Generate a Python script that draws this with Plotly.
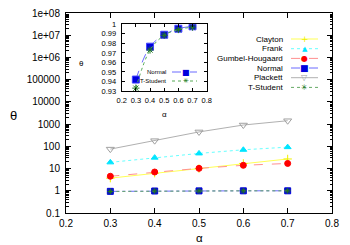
import plotly.graph_objects as go

# ---------------- data ----------------
alpha = [0.3, 0.4, 0.5, 0.6, 0.7]
clayton = [3.7, 6.2, 10.0, 17.0, 27.0]
frank = [19, 31, 48, 70, 92]
gumbel = [4.5, 7.0, 10.2, 14.0, 17.0]
normal = [0.942, 0.9765, 0.989, 0.9954, 0.9979]
plackett = [75, 180, 445, 910, 1420]
tstudent = [0.933, 0.973, 0.9885, 0.9945, 0.997]

x_ticks = [0.2, 0.3, 0.4, 0.5, 0.6, 0.7, 0.8]
x_ticktext = ["0.2", "0.3", "0.4", "0.5", "0.6", "0.7", "0.8"]
y_ticks = [0.1, 1, 10, 100, 1000, 1e4, 1e5, 1e6, 1e7, 1e8]
y_ticktext = ["0.1", "1", "10", "100", "1000", "10000", "100000", "1e+06", "1e+07", "1e+08"]
inset_y_ticks = [0.93, 0.94, 0.95, 0.96, 0.97, 0.98, 0.99, 1.0]
inset_y_ticktext = ["0.93", "0.94", "0.95", "0.96", "0.97", "0.98", "0.99", "1"]

FONT = "Liberation Sans, Arial, sans-serif"
W, H = 350, 245
PL, PR, PT, PB = 66, 332, 13, 213  # plot area in pixels
L, T, R, B = PL, PT, W - PR, H - PB
PW, PH = PR - PL, PB - PT


def px(x):
    return (x - PL) / PW


def py(y):
    return (PB - y) / PH


series = [
    dict(name="Clayton", y=clayton, lc="#ffff55", mc="#f0f000", dash="solid",
         sym="cross-thin-open", size=6, glyph="+", gsize=9),
    dict(name="Frank", y=frank, lc="#66ffff", mc="#00e5ff", dash="dot",
         sym="triangle-up", size=6, glyph="▲", gsize=7),
    dict(name="Gumbel-Hougaard", y=gumbel, lc="#ff9090", mc="#ff0000", dash="dash",
         sym="circle", size=6, glyph="●", gsize=8),
    dict(name="Normal", y=normal, lc="#6a6aff", mc="#0000dd", dash="dashdot",
         sym="square", size=6, glyph="■", gsize=9),
    dict(name="Plackett", y=plackett, lc="#b0b0b0", mc="#a0a0a0", dash="solid",
         sym="triangle-down-open", size=7, glyph="▽", gsize=8),
    dict(name="T-Student", y=tstudent, lc="#66aa66", mc="#227722", dash="dot",
         sym="asterisk-open", size=5, glyph="✳", gsize=8),
]

fig = go.Figure()
for s in series:
    fig.add_trace(go.Scatter(
        x=alpha, y=s["y"], mode="lines+markers", name=s["name"],
        line=dict(color=s["lc"], width=1, dash=s["dash"]),
        marker=dict(symbol=s["sym"], size=s["size"], color=s["mc"],
                    line=dict(color=s["mc"], width=1)),
        showlegend=False, xaxis="x", yaxis="y"))

# inset
fig.add_trace(go.Scatter(
    x=alpha, y=normal, mode="lines+markers", name="Normal",
    line=dict(color="#6a6aff", width=1, dash="dash", shape="spline"),
    marker=dict(symbol="square", size=7, color="#0000dd", line=dict(color="#4444ff", width=1)),
    showlegend=False, xaxis="x2", yaxis="y2"))
fig.add_trace(go.Scatter(
    x=alpha, y=tstudent, mode="lines+markers", name="T-Student",
    line=dict(color="#55aa55", width=1, dash="dot", shape="spline"),
    marker=dict(symbol="asterisk-open", size=6, color="#227722", line=dict(color="#227722", width=1)),
    showlegend=False, xaxis="x2", yaxis="y2"))

annotations = []
shapes = []

# main legend (gnuplot style: right-aligned text, sample on right)
rows = [39, 48.7, 58.4, 68, 77.7, 87.4]
for s, ry in zip(series, rows):
    annotations.append(dict(x=px(285), y=py(ry), xref="paper", yref="paper", text=s["name"],
                            showarrow=False, xanchor="right", yanchor="middle",
                            font=dict(family=FONT, size=8, color="#000")))
    shapes.append(dict(type="line", xref="paper", yref="paper", x0=px(291), x1=px(318),
                       y0=py(ry), y1=py(ry), line=dict(color=s["lc"], width=1, dash=s["dash"])))
    annotations.append(dict(x=px(304.5), y=py(ry), xref="paper", yref="paper", text=s["glyph"],
                            showarrow=False, xanchor="center", yanchor="middle",
                            font=dict(family="DejaVu Sans", size=s["gsize"], color=s["mc"])))

# inset legend
inset_leg = [("Normal", "#6a6aff", "dash", "■", "#0000dd", 8, 72),
             ("T-Student", "#55aa55", "dot", "✳", "#227722", 7, 81)]
for name, lc, dash, glyph, mc, gs, ry in inset_leg:
    annotations.append(dict(x=px(168), y=py(ry), xref="paper", yref="paper", text=name,
                            showarrow=False, xanchor="right", yanchor="middle",
                            font=dict(family=FONT, size=6, color="#000")))
    shapes.append(dict(type="line", xref="paper", yref="paper", x0=px(172), x1=px(197),
                       y0=py(ry), y1=py(ry), line=dict(color=lc, width=1, dash=dash)))
    annotations.append(dict(x=px(186), y=py(ry), xref="paper", yref="paper", text=glyph,
                            showarrow=False, xanchor="center", yanchor="middle",
                            font=dict(family="DejaVu Sans", size=gs, color=mc)))

# axis titles
annotations += [
    dict(x=px(8), y=py(115), xref="paper", yref="paper", text="θ", showarrow=False,
         font=dict(family=FONT, size=13, color="#000")),
    dict(x=px(199), y=py(245), xref="paper", yref="paper", text="α", showarrow=False,
         xanchor="center", yanchor="bottom", borderpad=0,
         font=dict(family=FONT, size=11.5, color="#000")),
    dict(x=px(77), y=py(57), xref="paper", yref="paper", text="θ", showarrow=False,
         font=dict(family=FONT, size=8, color="#000")),
    dict(x=px(164), y=py(114), xref="paper", yref="paper", text="α", showarrow=False,
         font=dict(family=FONT, size=8, color="#000")),
]

axis_common = dict(showgrid=False, zeroline=False, showline=True, linecolor="#000",
                   linewidth=1, mirror="ticks", ticks="inside", tickcolor="#000",
                   automargin=False, ticklabeloverflow="allow")

fig.update_layout(
    width=W, height=H,
    margin=dict(l=L, r=R, t=T, b=B, pad=0, autoexpand=False),
    paper_bgcolor="white", plot_bgcolor="white",
    font=dict(family=FONT, size=10, color="#000"),
    showlegend=False,
    xaxis=dict(range=[0.2, 0.8], tickvals=x_ticks, ticktext=x_ticktext, ticklen=5,
               tickfont=dict(size=10), ticklabelstandoff=1, **axis_common),
    yaxis=dict(type="log", range=[-1, 8], tickvals=y_ticks, ticktext=y_ticktext, ticklen=5,
               tickfont=dict(size=10), ticklabelstandoff=3,
               minor=dict(ticks="inside", ticklen=2.5, tickcolor="#000", dtick="D1"),
               **axis_common),
    xaxis2=dict(domain=[px(121.7), px(206.7)], anchor="y2", range=[0.2, 0.8],
                tickvals=x_ticks, ticktext=x_ticktext, ticklen=3, tickfont=dict(size=7.5),
                ticklabelstandoff=2, **axis_common),
    yaxis2=dict(domain=[py(91), py(24.3)], anchor="x2", range=[0.93, 1.0],
                tickvals=inset_y_ticks, ticktext=inset_y_ticktext, ticklen=3,
                tickfont=dict(size=7.5), ticklabelstandoff=3, **axis_common),
    annotations=annotations,
    shapes=shapes,
)

fig.write_html("out.html", config={"displayModeBar": False},
               post_script="document.body.style.margin='0';document.body.style.overflow='hidden';")
